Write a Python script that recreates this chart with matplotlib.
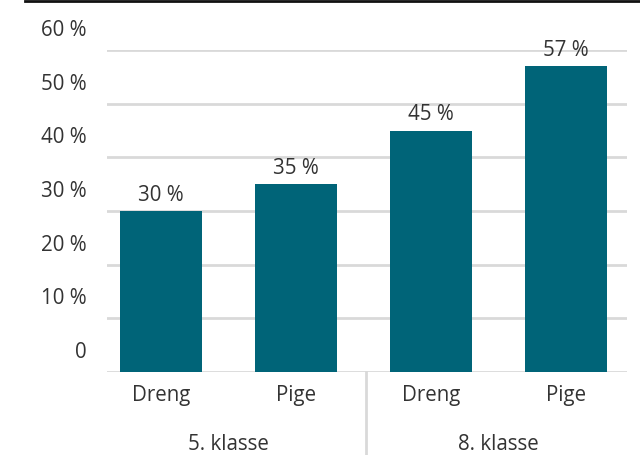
import matplotlib.pyplot as plt
from matplotlib.lines import Line2D
from matplotlib.transforms import ScaledTranslation

plt.rcParams['font.family'] = ['Open Sans', 'DejaVu Sans']

TEXT = '#333333'
BAR = '#006478'
GRID = '#D9D9D9'
FS = 14.8

grades = ['5. klasse', '8. klasse']
genders = ['Dreng', 'Pige', 'Dreng', 'Pige']
values = [30, 35, 45, 57]
yticks = [0, 10, 20, 30, 40, 50, 60]
ytick_labels = ['0', '10 %', '20 %', '30 %', '40 %', '50 %', '60 %']

fig = plt.figure(figsize=(6.4, 4.55), dpi=100)
ax = fig.add_axes([107/640, 83/455, 520/640, 322/455])

x = list(range(len(values)))
ax.bar(x, values, width=0.61, color=BAR, zorder=3)
for xi, v in zip(x, values):
    ax.text(xi, v + 1.0, f'{v} %', ha='center', va='bottom', fontsize=FS, color=TEXT)

ax.set_xlim(-0.4, 3.45)
ax.set_ylim(0, 60)
ax.set_yticks(yticks)
ax.set_yticklabels(ytick_labels)
ax.yaxis.grid(True, color=GRID, lw=2)
ax.set_axisbelow(True)
ax.tick_params(axis='y', length=0, pad=15, labelsize=FS, labelcolor=TEXT)
ax.set_xticks([])
for s in ax.spines.values():
    s.set_visible(False)

# y labels sit a bit above their gridlines
shift = ScaledTranslation(0, 0.22, fig.dpi_scale_trans)
for lab in ax.get_yticklabels():
    lab.set_transform(lab.get_transform() + shift)

# category labels below the baseline
trans = ax.get_xaxis_transform()
for xi, g in zip(x, genders):
    ax.text(xi, -24/322, g, transform=trans, ha='center', va='center', fontsize=FS, color=TEXT)
for i, g in enumerate(grades):
    ax.text(2*i + 0.5, -72/322, g, transform=trans, ha='center', va='center', fontsize=FS, color=TEXT)
ax.add_line(Line2D([1.52, 1.52], [0, -83/322], transform=trans, color=GRID, lw=2, clip_on=False))

# black rule along the top edge
fig.add_artist(Line2D([25/640, 1], [1 - 1/455, 1 - 1/455], color='#111111', lw=2))

fig.savefig('out.png', dpi=100)
